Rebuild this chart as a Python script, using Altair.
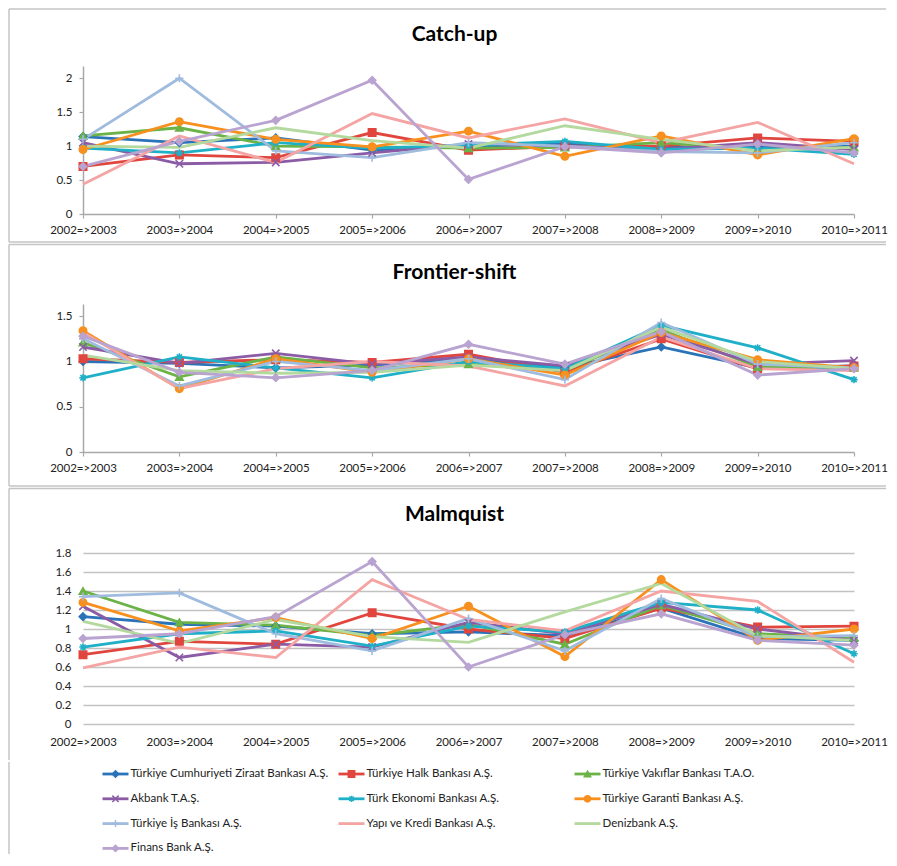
import altair as alt
import pandas as pd

periods = ["2002=>2003", "2003=>2004", "2004=>2005", "2005=>2006", "2006=>2007",
           "2007=>2008", "2008=>2009", "2009=>2010", "2010=>2011"]

banks = ["Türkiye Cumhuriyeti Ziraat Bankası A.Ş.", "Türkiye Halk Bankası A.Ş.",
         "Türkiye Vakıflar Bankası T.A.O.", "Akbank T.A.Ş.", "Türk Ekonomi Bankası A.Ş.",
         "Türkiye Garanti Bankası A.Ş.", "Türkiye İş Bankası A.Ş.", "Yapı ve Kredi Bankası A.Ş.",
         "Denizbank A.Ş.", "Finans Bank A.Ş."]

colors = ["#2A73B8", "#E0463E", "#6BB347", "#8C5BA6", "#1FB0C8",
          "#F7901E", "#9FBBDE", "#F5A4A4", "#B4D99E", "#B9A3D0"]

X_PATH = "M-1,-1L1,1M-1,1L1,-1"
PLUS_PATH = "M-1.1,0L1.1,0M0,-1.1L0,1.1"
STAR_PATH = "M-1,0L1,0M0,-1L0,1M-0.7,-0.7L0.7,0.7M-0.7,0.7L0.7,-0.7"
shapes = ["diamond", "square", "triangle-up", X_PATH, STAR_PATH,
          "circle", PLUS_PATH, "circle", "circle", "diamond"]
filled = [True, True, True, False, False, True, False, False, False, True]
has_marker = [True, True, True, True, True, True, True, False, False, True]

catch_up = {
    banks[0]: [1.14, 1.05, 1.12, 0.94, 1.00, 1.03, 0.98, 0.98, 1.00],
    banks[1]: [0.70, 0.87, 0.83, 1.20, 0.94, 1.00, 1.00, 1.12, 1.07],
    banks[2]: [1.15, 1.27, 1.00, 0.99, 0.97, 0.98, 1.05, 0.95, 0.98],
    banks[3]: [1.05, 0.74, 0.76, 0.90, 1.03, 1.00, 0.95, 1.05, 0.95],
    banks[4]: [0.97, 0.90, 1.05, 0.97, 1.01, 1.07, 0.95, 0.97, 0.88],
    banks[5]: [0.95, 1.36, 1.10, 0.99, 1.22, 0.85, 1.15, 0.87, 1.11],
    banks[6]: [1.10, 2.00, 0.93, 0.83, 1.05, 1.00, 0.92, 0.90, 1.05],
    banks[7]: [0.44, 1.15, 0.76, 1.48, 1.12, 1.40, 1.05, 1.35, 0.74],
    banks[8]: [1.00, 0.98, 1.27, 1.08, 0.97, 1.30, 1.10, 0.93, 0.98],
    banks[9]: [0.70, 1.07, 1.38, 1.97, 0.51, 0.99, 0.90, 1.03, 0.90],
}

frontier_shift = {
    banks[0]: [1.00, 0.98, 0.93, 0.96, 1.03, 0.93, 1.16, 0.93, 0.95],
    banks[1]: [1.03, 0.99, 1.02, 0.99, 1.08, 0.88, 1.25, 0.92, 0.95],
    banks[2]: [1.21, 0.83, 1.05, 0.93, 0.97, 0.90, 1.35, 0.94, 0.93],
    banks[3]: [1.16, 0.98, 1.09, 0.97, 1.05, 0.95, 1.30, 0.97, 1.01],
    banks[4]: [0.82, 1.05, 0.93, 0.82, 1.00, 0.92, 1.40, 1.15, 0.80],
    banks[5]: [1.34, 0.70, 1.03, 0.88, 1.03, 0.85, 1.32, 1.02, 0.93],
    banks[6]: [1.25, 0.73, 1.00, 0.90, 1.03, 0.80, 1.43, 0.97, 0.93],
    banks[7]: [1.32, 0.70, 0.92, 1.00, 0.95, 0.73, 1.27, 0.92, 0.90],
    banks[8]: [1.07, 0.90, 0.87, 0.88, 0.96, 0.90, 1.38, 1.00, 0.92],
    banks[9]: [1.28, 0.88, 0.82, 0.90, 1.19, 0.97, 1.33, 0.85, 0.92],
}

malmquist = {
    banks[0]: [1.13, 1.05, 1.03, 0.95, 0.97, 0.93, 1.22, 0.90, 0.88],
    banks[1]: [0.73, 0.87, 0.84, 1.17, 1.00, 0.90, 1.22, 1.02, 1.03],
    banks[2]: [1.40, 1.07, 1.04, 0.93, 1.05, 0.84, 1.25, 0.95, 0.91],
    banks[3]: [1.24, 0.70, 0.84, 0.81, 1.07, 0.95, 1.26, 1.00, 0.88],
    banks[4]: [0.81, 0.95, 0.98, 0.82, 1.03, 0.97, 1.28, 1.20, 0.74],
    banks[5]: [1.28, 0.98, 1.12, 0.90, 1.24, 0.71, 1.52, 0.88, 1.00],
    banks[6]: [1.34, 1.38, 0.95, 0.77, 1.11, 0.77, 1.32, 0.92, 0.93],
    banks[7]: [0.59, 0.81, 0.70, 1.52, 1.10, 0.98, 1.40, 1.29, 0.65],
    banks[8]: [1.08, 0.85, 1.10, 0.92, 0.86, 1.18, 1.48, 0.93, 0.88],
    banks[9]: [0.90, 0.95, 1.13, 1.71, 0.60, 0.94, 1.16, 0.88, 0.83],
}

FONT = "Lato"
BORDER = "#C4C4C4"
AXISC = "#A8A8A8"
W = 771
LEFT = -74
RIGHT = 803

color_scale = alt.Scale(domain=banks, range=colors)
fill_scale = alt.Scale(domain=banks, range=[c if f else "transparent" for c, f in zip(colors, filled)])
shape_scale = alt.Scale(domain=banks, range=shapes)
marker_banks = [b for b, m in zip(banks, has_marker) if m]


def border(top, bottom, with_top=True, with_bottom=True):
    one = alt.Chart(pd.DataFrame({"k": [0]}))
    parts = [one.mark_rule(color=BORDER, strokeWidth=1.5).encode(
        x=alt.value(LEFT), y=alt.value(top), y2=alt.value(bottom))]
    if with_top:
        parts.append(one.mark_rule(color=BORDER, strokeWidth=1.5).encode(
            x=alt.value(LEFT), x2=alt.value(RIGHT), y=alt.value(top)))
    if with_bottom:
        parts.append(one.mark_rule(color=BORDER, strokeWidth=1.5).encode(
            x=alt.value(LEFT), x2=alt.value(RIGHT), y=alt.value(bottom)))
    return parts


def panel(values, title, ymax, yticks, h, top, bottom, toff, grid, with_bottom=True):
    rows = []
    for b in banks:
        for p, v in zip(periods, values[b]):
            rows.append({"bank": b, "period": p, "value": v})
    df = pd.DataFrame(rows)
    if grid:
        xaxis = alt.Axis(title=None, labelAngle=0, domain=False, ticks=False, grid=False,
                         labelPadding=12, labelFont=FONT, labelFontSize=11.5, labelColor="#222")
        yaxis = alt.Axis(title=None, values=yticks, format="~g", domain=False, ticks=False,
                         grid=True, gridColor="#C2C2C2", gridWidth=1.7, labelPadding=12,
                         labelFont=FONT, labelFontSize=11.5, labelColor="#222")
    else:
        xaxis = alt.Axis(title=None, labelAngle=0, domain=True, domainColor=AXISC, domainWidth=1.5,
                         ticks=True, tickColor=AXISC, tickSize=4, tickWidth=1.2, grid=False,
                         labelPadding=6, labelFont=FONT, labelFontSize=11.5, labelColor="#222")
        yaxis = alt.Axis(title=None, values=yticks, format="~g", domain=True, domainColor=AXISC,
                         domainWidth=1.5, ticks=True, tickColor=AXISC, tickSize=4, tickWidth=1.2,
                         grid=False, labelPadding=7, labelFont=FONT, labelFontSize=11.5,
                         labelColor="#222")
    x = alt.X("period:N", sort=periods, scale=alt.Scale(domain=periods, padding=0), axis=xaxis)
    y = alt.Y("value:Q", scale=alt.Scale(domain=[0, ymax], nice=False, zero=True), axis=yaxis)
    base = alt.Chart(df)
    lines = base.mark_line(strokeWidth=2.8).encode(
        x=x, y=y, color=alt.Color("bank:N", scale=color_scale, legend=None))
    pts = base.transform_filter(alt.FieldOneOfPredicate(field="bank", oneOf=marker_banks)).mark_point(
        size=55, strokeWidth=1.6, opacity=1).encode(
        x=x, y=y,
        color=alt.Color("bank:N", scale=color_scale, legend=None),
        fill=alt.Fill("bank:N", scale=fill_scale, legend=None),
        shape=alt.Shape("bank:N", scale=shape_scale, legend=None))
    layers = border(top, bottom, True, with_bottom) + [lines, pts]
    return alt.layer(*layers).properties(
        width=W, height=h,
        title=alt.TitleParams(title, font=FONT, fontSize=21, fontWeight="bold", color="#000",
                              anchor="middle", frame="group", dx=-14, offset=toff,
                              baseline="alphabetic"))


p1 = panel(catch_up, "Catch-up", 2.18, [0, 0.5, 1, 1.5, 2], 148, -57, 176, -54, False)
p2 = panel(frontier_shift, "Frontier-shift", 1.635, [0, 0.5, 1, 1.5], 148, -59.5, 182, -56.5, False)
p3 = panel(malmquist, "Malmquist", 1.8, [0, 0.2, 0.4, 0.6, 0.8, 1, 1.2, 1.4, 1.6, 1.8], 171,
           -64.5, 207, -54.5, True, with_bottom=False)

# legend
LH = 88
RS = 24.8
CS = 236.0
CX0 = 32.5
leg_df = pd.DataFrame({"bank": banks,
                       "col": [i % 3 for i in range(len(banks))],
                       "row": [i // 3 for i in range(len(banks))]})
d0 = -12 / RS
lx = alt.X("col:Q", scale=alt.Scale(domain=[-CX0 / CS, (W - CX0) / CS], nice=False, zero=False), axis=None)
ly = alt.Y("row:Q", scale=alt.Scale(domain=[d0, d0 + LH / RS], nice=False, zero=False, reverse=True), axis=None)
lbase = alt.Chart(leg_df)
leg_line = lbase.mark_point(shape="stroke", size=26 * 26, strokeWidth=2.8, filled=False, opacity=1).encode(
    x=lx, y=ly, color=alt.Color("bank:N", scale=color_scale, legend=None))
leg_pts = lbase.transform_filter(alt.FieldOneOfPredicate(field="bank", oneOf=marker_banks)).mark_point(
    size=40, strokeWidth=1.5, opacity=1).encode(
    x=lx, y=ly,
    color=alt.Color("bank:N", scale=color_scale, legend=None),
    fill=alt.Fill("bank:N", scale=fill_scale, legend=None),
    shape=alt.Shape("bank:N", scale=shape_scale, legend=None))
leg_txt = lbase.mark_text(align="left", baseline="middle", dx=15, font=FONT, fontSize=11.5,
                          color="#222").encode(x=lx, y=ly, text="bank:N")
leg_border = alt.Chart(pd.DataFrame({"k": [0]})).mark_rule(color=BORDER, strokeWidth=1.5).encode(
    x=alt.value(LEFT), y=alt.value(0), y2=alt.value(LH + 4))
legend = alt.layer(leg_border, leg_line, leg_pts, leg_txt).properties(width=W, height=LH)

chart = alt.vconcat(p1, p2, p3, legend, spacing=0).properties(
    padding=0, background="white"
).configure(font=FONT, view=alt.ViewConfig(stroke=None))

chart.save("out.html", embed_options={"renderer": "svg", "actions": False})
